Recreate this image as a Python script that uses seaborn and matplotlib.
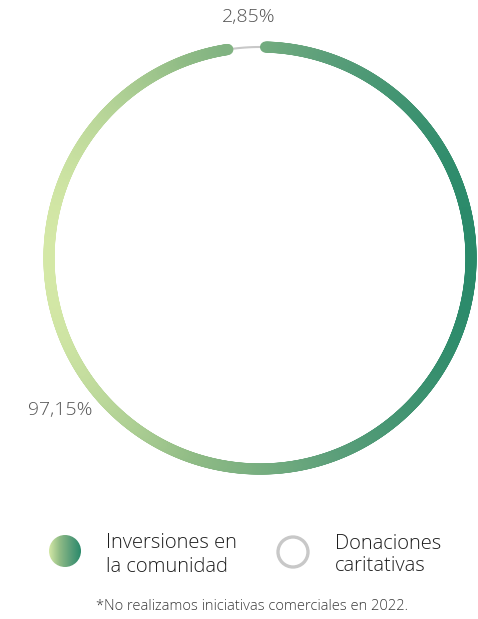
import numpy as np
import seaborn as sns
import matplotlib
matplotlib.use("Agg")
from matplotlib import pyplot as plt
from matplotlib.collections import LineCollection
from matplotlib.colors import LinearSegmentedColormap
from matplotlib.patches import Circle

categories = ["Inversiones en\nla comunidad", "Donaciones\ncaritativas"]
values = [97.15, 2.85]
value_labels = ["97,15%", "2,85%"]
note = "*No realizamos iniciativas comerciales en 2022."

sns.set_theme(style="white")
plt.rcParams["font.family"] = ["Open Sans", "DejaVu Sans"]

grad = LinearSegmentedColormap.from_list("grn", ["#d4e8a6", "#8fbb85", "#5c9f7a", "#2a8a6a"])

W, H = 478, 619
fig = plt.figure(figsize=(W / 100, H / 100), dpi=100)
ax = fig.add_axes([0, 0, 1, 1])
ax.set_xlim(0, W)
ax.set_ylim(H, 0)
ax.set_aspect("equal")
ax.axis("off")

cx, cy, r = 260, 258, 211
x_left, x_right = cx - r, cx + r

# ring: green part clockwise from just right of the top, gray part fills the rest
total = sum(values)
start = 88.5
green_span = 360 * values[0] / total
th = np.radians(np.linspace(start, start - green_span, 1500))
xs = cx + r * np.cos(th)
ys = cy - r * np.sin(th)
pts = np.column_stack([xs, ys]).reshape(-1, 1, 2)
segs = np.concatenate([pts[:-1], pts[1:]], axis=1)
cvals = ((xs[:-1] + xs[1:]) / 2 - x_left) / (x_right - x_left)
lc = LineCollection(segs, colors=grad(cvals), linewidths=8.0, capstyle="round", zorder=3)
ax.add_collection(lc)

th2 = np.radians(np.linspace(start, start + 360 * values[1] / total, 60))
ax.plot(cx + r * np.cos(th2), cy - r * np.sin(th2), color="#c8c8c8", lw=1.5, zorder=2)

ax.text(249, 17, value_labels[1], ha="center", va="center", fontsize=14,
        color="#555555", fontweight="light")
ax.text(60, 410, value_labels[0], ha="center", va="center", fontsize=14,
        color="#555555", fontweight="light")

# legend markers
lx, ly, lr = 65, 551, 16
gimg = np.linspace(0, 1, 256).reshape(1, -1)
im = ax.imshow(gimg, cmap=grad, extent=[lx - lr, lx + lr, ly + lr, ly - lr], zorder=3)
clip = Circle((lx, ly), lr, transform=ax.transData)
im.set_clip_path(clip)
ax.add_patch(Circle((293, 552), 15, fill=False, ec="#c8c8c8", lw=2.4, zorder=3))

ax.text(106, 555, categories[0], ha="left", va="center", fontsize=14.5, color="#1e1e1e",
        linespacing=1.32, fontweight="light")
ax.text(335, 555, categories[1], ha="left", va="center", fontsize=14.5, color="#1e1e1e",
        linespacing=1.12, fontweight="light")

ax.text(252, 607, note, ha="center", va="center", fontsize=10.5, color="#3a3a3a",
        fontweight="light")

fig.savefig("out.png", dpi=100, facecolor="white")
